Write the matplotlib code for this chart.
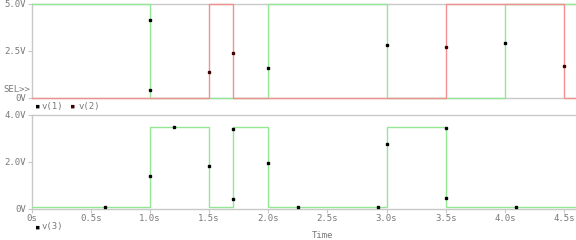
import numpy as np
import matplotlib
matplotlib.use('Agg')
import matplotlib.pyplot as plt

# trace data (time in s, volts)
v1_t = [0, 1.0, 2.0, 3.0, 4.0, 4.6]
v1_v = [5, 0, 5, 0, 5, 5]
v2_t = [0, 1.5, 1.7, 3.5, 4.5, 4.6]
v2_v = [0, 5, 0, 5, 0, 0]
v3_t = [0, 1.0, 1.5, 1.7, 2.0, 3.0, 3.5, 4.6]
v3_v = [0.06, 3.5, 0.06, 3.5, 0.06, 3.5, 0.06, 0.06]

# symbol markers along the traces
v1_mark_t = [1.0, 1.0, 2.0, 3.0, 4.0]
v1_mark_v = [4.13, 0.4, 1.56, 2.81, 2.88]
v2_mark_t = [1.5, 1.7, 3.5, 4.5]
v2_mark_v = [1.38, 2.36, 2.68, 1.65]
v3_mark_t = [0.62, 1.0, 1.2, 1.5, 1.7, 1.7, 2.0, 2.25, 2.93, 3.0, 3.5, 3.5, 4.09]
v3_mark_v = [0.06, 1.39, 3.5, 1.82, 3.38, 0.41, 1.96, 0.06, 0.06, 2.75, 3.45, 0.46, 0.06]

x_ticks = [0, 0.5, 1.0, 1.5, 2.0, 2.5, 3.0, 3.5, 4.0, 4.5]
x_labels = ['0s', '0.5s', '1.0s', '1.5s', '2.0s', '2.5s', '3.0s', '3.5s', '4.0s', '4.5s']
top_ticks = [0, 2.5, 5.0]
top_labels = ['0V', '2.5V', '5.0V']
bot_ticks = [0, 2.0, 4.0]
bot_labels = ['0V', '2.0V', '4.0V']

green = '#94e894'
red = '#f29090'
frame = '#c8c8c8'
txt = '#787878'
plt.rcParams['font.family'] = 'DejaVu Sans Mono'
plt.rcParams['font.size'] = 6.5

fig = plt.figure(figsize=(5.76, 2.4), dpi=100)
W, H = 576, 240
left = 31.5 / W
ax1 = fig.add_axes([left, 1 - 97.5 / H, 1 - left, 94 / H])
ax2 = fig.add_axes([left, 1 - 208.5 / H, 1 - left, 93.5 / H])

for ax in (ax1, ax2):
    ax.set_xlim(0, 4.6)
    ax.spines['right'].set_visible(False)
    for s in ('left', 'top', 'bottom'):
        ax.spines[s].set_color(frame)
        ax.spines[s].set_linewidth(1)
    ax.tick_params(colors=frame, labelcolor=txt, length=3, width=0.8, pad=1)
    ax.set_xticks(x_ticks)

# traces drawn above the frame, like the original plot
ax1.step(v1_t, v1_v, where='post', color=green, lw=1.0, zorder=3, clip_on=False)
ax1.step(v2_t, v2_v, where='post', color=red, lw=1.0, zorder=4, clip_on=False)
ax1.plot(v1_mark_t, v1_mark_v, 's', color='black', ms=2, zorder=5)
ax1.plot(v2_mark_t, v2_mark_v, 's', color='#400000', ms=1.6, zorder=5)
ax1.set_ylim(0, 5)
ax1.set_yticks(top_ticks)
ax1.set_yticklabels(top_labels)
ax1.set_xticklabels([])
ax1.tick_params(axis='x', length=0)

ax2.step(v3_t, v3_v, where='post', color=green, lw=1.0, zorder=3)
ax2.plot(v3_mark_t, v3_mark_v, 's', color='black', ms=2, zorder=5)
ax2.set_ylim(0, 4)
ax2.set_yticks(bot_ticks)
ax2.set_yticklabels(bot_labels)
ax2.set_xticklabels(x_labels)

# legends and labels
fig.text(3 / W, 1 - 90 / H, 'SEL>>', color=txt, va='center', ha='left')
fig.text(35 / W, 1 - 106 / H, '\u25aa', color='black', va='center', ha='left')
fig.text(42 / W, 1 - 106 / H, 'v(1)', color=txt, va='center', ha='left')
fig.text(70 / W, 1 - 106 / H, '\u25aa', color='#400000', va='center', ha='left')
fig.text(79 / W, 1 - 106 / H, 'v(2)', color=txt, va='center', ha='left')
fig.text(35 / W, 1 - 227 / H, '\u25aa', color='black', va='center', ha='left')
fig.text(42 / W, 1 - 227 / H, 'v(3)', color=txt, va='center', ha='left')
fig.text(323 / W, 1 - 235 / H, 'Time', color=txt, va='center', ha='center')

fig.savefig('out.png', dpi=100)
